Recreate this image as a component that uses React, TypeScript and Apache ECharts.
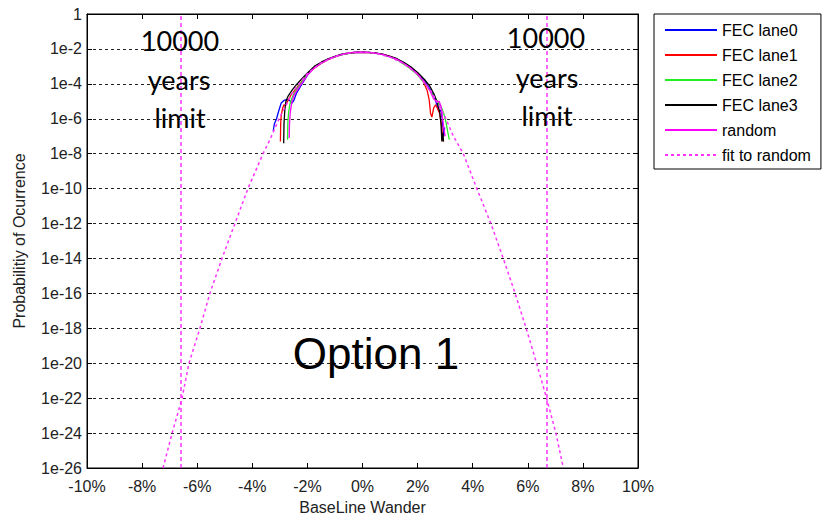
import React, { useEffect, useRef } from "react";
import * as echarts from "echarts";

// x in percent, y as the decimal exponent of the probability (log10)
const LANE0: [number, number][] = [
  [-3.24, -6.7], [-3.2, -6.3], [-3.12, -6.0], [-3.05, -5.6], [-2.95, -5.1], [-2.85, -4.95], [-2.75, -4.9],
  [-2.65, -4.95], [-2.55, -5.1], [-2.48, -4.9], [-2.4, -4.55], [-2.25, -4.15], [-2.0, -3.5], [-1.75, -3.05],
  [-1.5, -2.8], [-1.25, -2.6], [-1.0, -2.44], [-0.75, -2.32], [-0.5, -2.26], [-0.25, -2.21], [0, -2.2],
  [0.25, -2.21], [0.5, -2.25], [0.75, -2.32], [1.0, -2.44], [1.25, -2.6], [1.5, -2.8], [1.75, -3.05],
  [2.0, -3.4], [2.25, -3.85], [2.45, -4.3], [2.6, -4.7], [2.7, -5.2], [2.78, -5.6], [2.85, -5.5],
  [2.9, -6.1], [2.95, -7.0], [2.98, -6.5],
];
const LANE1: [number, number][] = [
  [-2.98, -7.3], [-2.97, -6.3], [-2.95, -5.8], [-2.9, -5.4], [-2.85, -5.2], [-2.8, -5.25], [-2.72, -5.0],
  [-2.6, -4.65], [-2.45, -4.35], [-2.25, -3.95], [-2.0, -3.45], [-1.75, -3.1], [-1.5, -2.83], [-1.25, -2.62],
  [-1.0, -2.46], [-0.75, -2.33], [-0.5, -2.25], [-0.25, -2.21], [0, -2.19], [0.25, -2.21], [0.5, -2.24],
  [0.75, -2.31], [1.0, -2.43], [1.25, -2.58], [1.5, -2.82], [1.75, -3.1], [2.0, -3.45], [2.2, -3.85],
  [2.35, -4.4], [2.42, -4.9], [2.47, -5.7], [2.52, -5.9], [2.58, -5.4], [2.65, -5.2], [2.72, -5.4],
  [2.8, -5.7], [2.87, -6.4], [2.93, -7.3],
];
const LANE2: [number, number][] = [
  [-2.72, -7.2], [-2.71, -6.2], [-2.68, -5.6], [-2.64, -5.2], [-2.58, -4.9], [-2.5, -4.6], [-2.3, -4.1],
  [-2.0, -3.42], [-1.75, -3.05], [-1.5, -2.8], [-1.25, -2.6], [-1.0, -2.45], [-0.75, -2.32], [-0.5, -2.25],
  [-0.25, -2.2], [0, -2.2], [0.25, -2.2], [0.5, -2.25], [0.75, -2.33], [1.0, -2.46], [1.25, -2.62],
  [1.5, -2.87], [1.75, -3.15], [2.0, -3.5], [2.25, -3.95], [2.5, -4.5], [2.7, -4.95], [2.85, -5.3],
  [2.95, -5.7], [3.03, -6.2], [3.1, -6.8], [3.15, -7.2],
];
const LANE3: [number, number][] = [
  [-2.86, -7.4], [-2.85, -6.3], [-2.82, -5.5], [-2.78, -5.0], [-2.7, -4.7], [-2.55, -4.35], [-2.4, -4.05],
  [-2.2, -3.7], [-2.0, -3.38], [-1.75, -3.0], [-1.5, -2.76], [-1.25, -2.57], [-1.0, -2.42], [-0.75, -2.3],
  [-0.5, -2.23], [-0.25, -2.19], [0, -2.18], [0.25, -2.2], [0.5, -2.24], [0.75, -2.31], [1.0, -2.42],
  [1.25, -2.56], [1.5, -2.77], [1.75, -3.02], [2.0, -3.35], [2.25, -3.75], [2.45, -4.15], [2.6, -4.6],
  [2.72, -5.1], [2.8, -5.6], [2.85, -6.3], [2.88, -7.3], [2.92, -6.8], [2.94, -7.3],
];
const RANDOM: [number, number][] = [
  [-2.66, -7.1], [-2.65, -6.3], [-2.62, -5.6], [-2.57, -5.1], [-2.5, -4.7], [-2.35, -4.3], [-2.15, -3.85],
  [-2.0, -3.5], [-1.75, -3.08], [-1.5, -2.82], [-1.25, -2.6], [-1.0, -2.44], [-0.75, -2.31], [-0.5, -2.24],
  [-0.25, -2.19], [0, -2.18], [0.25, -2.2], [0.5, -2.25], [0.75, -2.33], [1.0, -2.45], [1.25, -2.6],
  [1.5, -2.83], [1.75, -3.1], [2.0, -3.45], [2.25, -3.9], [2.45, -4.4], [2.58, -4.85], [2.68, -5.0],
  [2.78, -5.0], [2.85, -5.3], [2.9, -5.9], [2.95, -6.5], [3.0, -7.0],
];
const FIT: [number, number][] = [
  [-7.24, -26], [-6.91, -24], [-6.55, -22], [-6.3, -20], [-5.9, -18], [-5.54, -16], [-5.1, -14],
  [-4.63, -12], [-4.16, -10], [-3.61, -8], [-3.36, -7.2], [-3.0, -5.9], [-2.5, -4.4], [-2.0, -3.4],
  [-1.5, -2.8], [-1.0, -2.45], [-0.5, -2.23], [0, -2.17], [0.5, -2.25], [1.0, -2.47], [1.5, -2.85],
  [2.0, -3.45], [2.5, -4.45], [3.0, -5.9], [3.3, -7.0], [3.66, -8], [4.15, -10], [4.66, -12],
  [5.11, -14], [5.54, -16], [5.94, -18], [6.32, -20], [6.68, -22], [7.02, -24], [7.29, -26],
];
const LIMIT_X = [-6.6, 6.7];
const Y_MIN_EXP = -26;
const Y_MAX_EXP = 0;

const SERIES_NAMES = ["FEC lane0", "FEC lane1", "FEC lane2", "FEC lane3", "random", "fit to random"];
const SERIES_COLORS = ["#0000ff", "#ff0000", "#22ee22", "#000000", "#ff00ff", "#ff33ff"];

const FONT = "Liberation Sans, Arial, sans-serif";

export default function App() {
  const ref = useRef<HTMLDivElement>(null);
  useEffect(() => {
    if (!ref.current) return;
    const chart = echarts.init(ref.current, null, { renderer: "svg" });
    const datasets = [LANE0, LANE1, LANE2, LANE3, RANDOM, FIT];
    const series: any[] = datasets.map((d, i) => ({
      name: SERIES_NAMES[i],
      type: "line",
      data: d,
      symbol: "none",
      showSymbol: false,
      smooth: false,
      color: SERIES_COLORS[i],
      lineStyle: {
        width: i === 5 ? 1.5 : 1.3,
        color: SERIES_COLORS[i],
        type: i === 5 ? [3, 3] : "solid",
      },
      z: 2 + i,
    }));
    series[5].markLine = {
      silent: true,
      symbol: ["none", "none"],
      label: { show: false },
      lineStyle: { color: "#ff33ff", type: [4, 3], width: 1.5 },
      data: LIMIT_X.map((x) => ({ xAxis: x })),
    };
    const yFmt = (v: number) => {
      const e = Math.round(v);
      return e === 0 ? "1" : "1e" + e;
    };
    const bigText = (text: string, x: number, y: number) => ({
      type: "text",
      x,
      y,
      z: 100,
      style: {
        text,
        font: "27px Lato, 'Open Sans', sans-serif",
        fill: "#000",
        textAlign: "center",
        textVerticalAlign: "middle",
      },
    });
    const yAxisBase = {
      type: "value",
      min: Y_MIN_EXP,
      max: Y_MAX_EXP,
      interval: 2,
      axisLine: { show: true, onZero: false, lineStyle: { color: "#000", width: 1 } },
      axisTick: { show: true, inside: true, length: 5, lineStyle: { color: "#000" } },
    };
    const xAxisBase = {
      type: "value",
      min: -10,
      max: 10,
      interval: 2,
      axisLine: { show: true, onZero: false, lineStyle: { color: "#000", width: 1 } },
      axisTick: { show: true, inside: true, length: 5, lineStyle: { color: "#000" } },
      splitLine: { show: false },
    };
    chart.setOption({
      animation: false,
      backgroundColor: "#fff",
      grid: {
        left: 87,
        right: 187,
        top: 14,
        bottom: 51,
        show: true,
        borderColor: "#000",
        borderWidth: 1,
        backgroundColor: "#fff",
      },
      legend: {
        orient: "vertical",
        left: 654,
        top: 14,
        padding: [8, 10, 6, 10],
        itemWidth: 52,
        itemHeight: 14,
        itemGap: 9,
        backgroundColor: "#fff",
        borderColor: "#000",
        borderWidth: 1,
        borderRadius: 0,
        itemStyle: { opacity: 0 },
        textStyle: { fontSize: 16, fontFamily: FONT, color: "#000", lineHeight: 16 },
        data: SERIES_NAMES,
      },
      xAxis: [
        {
          ...xAxisBase,
          axisLabel: {
            formatter: (v: number) => v + "%",
            fontSize: 16,
            fontFamily: FONT,
            color: "#222",
            margin: 10,
          },
          name: "BaseLine Wander",
          nameLocation: "middle",
          nameGap: 31,
          nameTextStyle: { fontSize: 16, fontFamily: FONT, color: "#222" },
        },
        { ...xAxisBase, position: "top", axisLabel: { show: false } },
      ],
      yAxis: [
        {
          ...yAxisBase,
          axisLabel: { formatter: yFmt, fontSize: 16, fontFamily: FONT, color: "#222", margin: 5 },
          splitLine: { show: true, lineStyle: { color: "#222", type: [3, 3], width: 1 } },
          name: "Probabilitiy of Ocurrence",
          nameLocation: "middle",
          nameGap: 60,
          nameTextStyle: { fontSize: 16, fontFamily: FONT, color: "#222" },
        },
        { ...yAxisBase, position: "right", axisLabel: { show: false }, splitLine: { show: false } },
      ],
      graphic: [
        bigText("10000", 180, 40),
        bigText("years", 179, 79),
        bigText("limit", 180, 117),
        bigText("10000", 546, 37),
        bigText("years", 547, 77),
        bigText("limit", 547, 115),
        {
          type: "text",
          x: 376,
          y: 353,
          z: 100,
          style: {
            text: "Option 1",
            font: "44px 'Liberation Sans', Arial, sans-serif",
            fill: "#000",
            textAlign: "center",
            textVerticalAlign: "middle",
          },
        },
      ],
      series,
    });
    return () => chart.dispose();
  }, []);
  return (
    <div
      ref={ref}
      style={{ position: "fixed", left: 0, top: 0, width: 825, height: 520, background: "#fff" }}
    />
  );
}
